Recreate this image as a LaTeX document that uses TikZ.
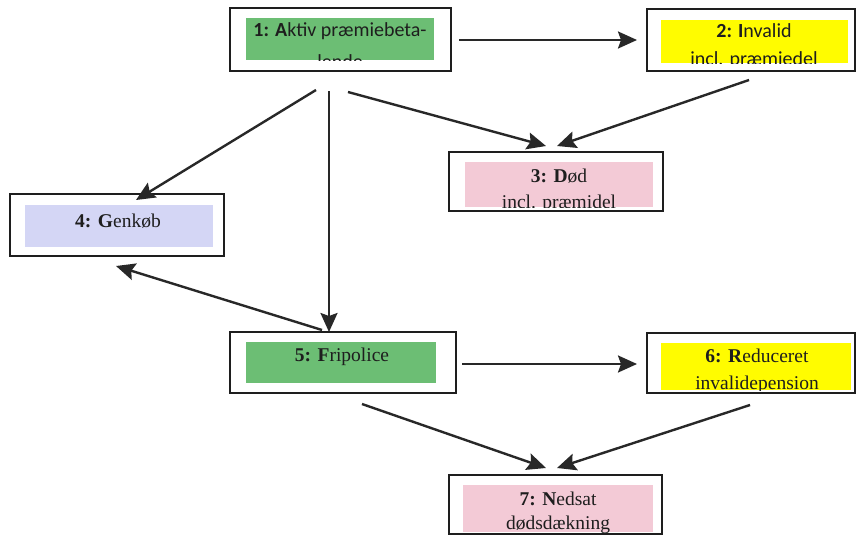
\documentclass[tikz,border=0pt]{standalone}
\usepackage{fontspec}
\setmainfont{Liberation Serif}
\newfontfamily\calib{Carlito}
\usetikzlibrary{arrows.meta}
\definecolor{bgreen}{RGB}{108,190,116}
\definecolor{byellow}{RGB}{255,252,0}
\definecolor{bpink}{RGB}{243,202,214}
\definecolor{blav}{RGB}{212,214,245}
\definecolor{ink}{RGB}{30,30,30}
\definecolor{arrink}{RGB}{40,40,40}
\begin{document}
\begin{tikzpicture}[x=1pt,y=-1pt,
  frame/.style={draw=ink, line width=2pt, fill=white, inner sep=0pt, outer sep=0pt},
  conn/.style={draw=arrink, line width=2.4pt, -{Stealth[length=19pt,width=17pt,inset=3pt]}},
  sertext/.style={font=\fontsize{19.5}{22}\selectfont, text=ink, inner sep=0pt, anchor=base},
  santext/.style={font=\calib\fontsize{20}{22}\selectfont, text=ink, inner sep=0pt, anchor=base}
]
\fill[white] (0,0) rectangle (856,536);
\useasboundingbox (0,0) rectangle (856,536);

% Box 1
\node[frame, minimum width=221pt, minimum height=63pt] (b1) at (340.5,39.5) {};
\fill[bgreen] (246,18) rectangle (434,60);
\begin{scope}
\clip (246,18) rectangle (434,60);
\node[santext] (t1a) at (340,36) {\textbf{1: A}ktiv præmiebeta-};
\node[santext] (t1b) at (340,68) {lende};
\end{scope}

% Box 2
\node[frame, minimum width=208pt, minimum height=62pt] (b2) at (751,40) {};
\fill[byellow] (661,20) rectangle (848,63);
\begin{scope}
\clip (661,20) rectangle (848,63);
\node[santext] (t2a) at (754,37) {\textbf{2: I}nvalid};
\node[santext] (t2b) at (754,65) {incl. præmiedel};
\end{scope}

% Box 3
\node[frame, minimum width=214pt, minimum height=59pt] (b3) at (556,181.5) {};
\fill[bpink] (465,162) rectangle (653,207);
\begin{scope}
\clip (465,162) rectangle (653,207);
\node[sertext] (t3a) at (559,182) {\textbf{3: D}ød};
\node[sertext] (t3b) at (559,208) {incl. præmidel};
\end{scope}

% Box 4
\node[frame, minimum width=214pt, minimum height=62pt] (b4) at (117,225) {};
\fill[blav] (25,205) rectangle (213,247);
\begin{scope}
\clip (25,205) rectangle (213,247);
\node[sertext] (t4a) at (118,227) {\textbf{4: G}enkøb};
\end{scope}

% Box 5
\node[frame, minimum width=226pt, minimum height=61pt] (b5) at (343,362.5) {};
\fill[bgreen] (246,342) rectangle (436,383);
\begin{scope}
\clip (246,342) rectangle (436,383);
\node[sertext] (t5a) at (342,361) {\textbf{5: F}ripolice};
\end{scope}

% Box 6
\node[frame, minimum width=208pt, minimum height=60pt] (b6) at (751,363) {};
\fill[byellow] (661,343) rectangle (851,390);
\begin{scope}
\clip (661,343) rectangle (851,390);
\node[sertext] (t6a) at (757,362) {\textbf{6: R}educeret};
\node[sertext] (t6b) at (757,389) {invalidepension};
\end{scope}

% Box 7
\node[frame, minimum width=213pt, minimum height=59pt] (b7) at (555.5,504.5) {};
\fill[bpink] (463,485) rectangle (653,532);
\begin{scope}
\clip (463,485) rectangle (653,532);
\node[sertext] (t7a) at (558,505) {\textbf{7: N}edsat};
\node[sertext] (t7b) at (558,529) {dødsdækning};
\end{scope}

% connector end points
\coordinate (s12) at (459,40);   \coordinate (e12) at (637,40);
\coordinate (s14) at (316,90);   \coordinate (e14) at (136,200);
\coordinate (s15) at (329,91);   \coordinate (e15) at (329,332);
\coordinate (s13) at (348,92);   \coordinate (e13) at (546,146);
\coordinate (s23) at (749,80);   \coordinate (e23) at (557,146);
\coordinate (s54) at (322,330);  \coordinate (e54) at (116,266);
\coordinate (s56) at (462,364);  \coordinate (e56) at (637,364);
\coordinate (s57) at (362,404);  \coordinate (e57) at (546,468);
\coordinate (s67) at (750,405);  \coordinate (e67) at (557,468);

\draw[conn] (s12) -- (e12);
\draw[conn] (s14) -- (e14);
\draw[conn] (s15) -- (e15);
\draw[conn] (s13) -- (e13);
\draw[conn] (s23) -- (e23);
\draw[conn] (s54) -- (e54);
\draw[conn] (s56) -- (e56);
\draw[conn] (s57) -- (e57);
\draw[conn] (s67) -- (e67);
\end{tikzpicture}
\end{document}
